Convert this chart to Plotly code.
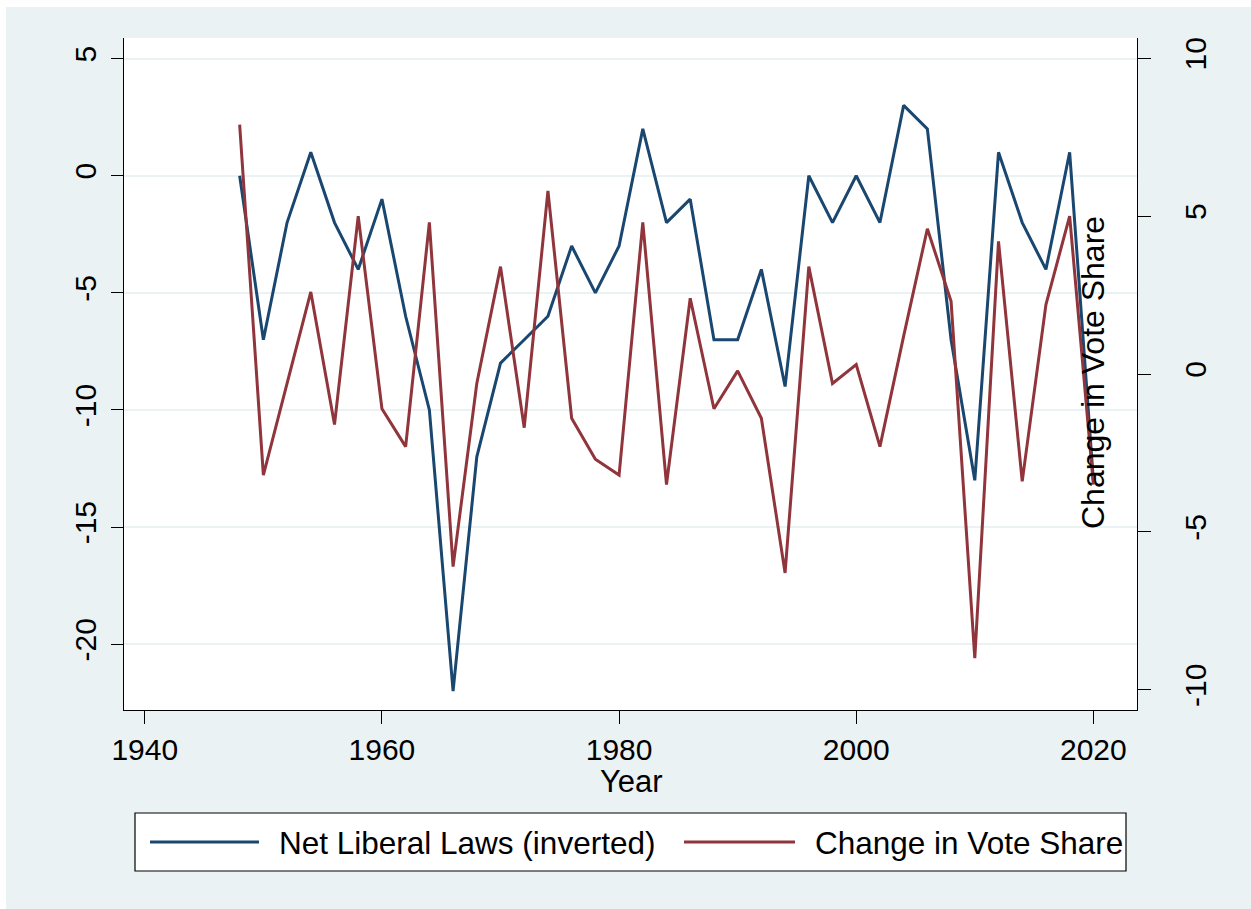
import plotly.graph_objects as go

# Election years
years = [1948, 1950, 1952, 1954, 1956, 1958, 1960, 1962, 1964, 1966,
         1968, 1970, 1972, 1974, 1976, 1978, 1980, 1982, 1984, 1986,
         1988, 1990, 1992, 1994, 1996, 1998, 2000, 2002, 2004, 2006,
         2008, 2010, 2012, 2014, 2016, 2018, 2020]

# Net liberal laws (sign inverted), left axis
net_liberal_laws = [0, -7, -2, 1, -2, -4, -1, -6, -10, -22,
                    -12, -8, -7, -6, -3, -5, -3, 2, -2, -1,
                    -7, -7, -4, -9, 0, -2, 0, -2, 3, 2,
                    -7, -13, 1, -2, -4, 1, -13]

# Change in vote share, right axis
vote_share_change = [7.9, -3.2, -0.3, 2.6, -1.6, 5.0, -1.1, -2.3, 4.8, -6.1,
                     -0.3, 3.4, -1.7, 5.8, -1.4, -2.7, -3.2, 4.8, -3.5, 2.4,
                     -1.1, 0.1, -1.4, -6.3, 3.4, -0.3, 0.3, -2.3, 1.2, 4.6,
                     2.3, -9.0, 4.2, -3.4, 2.2, 5.0, -3.5]

left_ticks = [-20, -15, -10, -5, 0, 5]
left_labels = ["-20", "-15", "-10", "-5", "0", "5"]
right_ticks = [-10, -5, 0, 5, 10]
right_labels = ["-10", "-5", "0", "5", "10"]
x_ticks = [1940, 1960, 1980, 2000, 2020]

NAVY = "#1A476F"
MAROON = "#90353B"
BG = "#EAF2F3"
FONT = "Liberation Sans, Arial, Helvetica, sans-serif"

W, H = 1251, 909
L, R, T, B = 124, 1137, 38, 710   # plot area in pixels


def px(x):
    return (x - L) / (R - L)


def py(y):
    return (B - y) / (B - T)


fig = go.Figure()
fig.add_trace(go.Scatter(x=years, y=net_liberal_laws, mode="lines",
                         line=dict(color=NAVY, width=3),
                         name="Net Liberal Laws (inverted)", showlegend=False))
fig.add_trace(go.Scatter(x=years, y=vote_share_change, mode="lines",
                         line=dict(color=MAROON, width=3),
                         name="Change in Vote Share", yaxis="y2", showlegend=False))

tickfont = dict(family=FONT, size=30, color="black")

fig.update_layout(
    width=W, height=H,
    margin=dict(l=L, r=W - R, t=T, b=H - B, pad=0),
    paper_bgcolor=BG,
    plot_bgcolor="white",
    font=dict(family=FONT, color="black"),
    xaxis=dict(range=[1938.246, 2023.68], tickvals=x_ticks, ticks="outside",
               ticklen=13, tickwidth=1.2, tickcolor="black", showgrid=False,
               zeroline=False, showline=True, linecolor="black", linewidth=1.2,
               tickfont=tickfont),
    yaxis=dict(range=[-22.806, 5.878], tickvals=left_ticks, ticktext=left_labels,
               ticks="outside", ticklen=12, tickwidth=1.2, tickcolor="black",
               tickangle=-90, ticklabelstandoff=3,
               showgrid=True, gridcolor=BG, gridwidth=2, zeroline=False,
               showline=True, linecolor="black", linewidth=1.2, tickfont=tickfont),
    yaxis2=dict(range=[-10.64, 10.64], tickvals=right_ticks, ticktext=right_labels,
                ticks="outside", ticklen=13, tickwidth=1.2, tickcolor="black",
                tickangle=-90, ticklabelstandoff=19,
                overlaying="y", side="right", showgrid=False, zeroline=False,
                showline=True, linecolor="black", linewidth=1.2, tickfont=tickfont),
    showlegend=False,
)

shapes = []
# white border strips along the top and left edges
shapes.append(dict(type="rect", xref="paper", yref="paper", x0=px(0), x1=px(W),
                   y0=py(0), y1=py(7), fillcolor="white", line=dict(width=0), layer="above"))
shapes.append(dict(type="rect", xref="paper", yref="paper", x0=px(0), x1=px(6),
                   y0=py(0), y1=py(H), fillcolor="white", line=dict(width=0), layer="above"))
# legend box
shapes.append(dict(type="rect", xref="paper", yref="paper", x0=px(135), x1=px(1126),
                   y0=py(813), y1=py(871), fillcolor="white",
                   line=dict(color="black", width=1.2), layer="above"))
# legend keys
shapes.append(dict(type="line", xref="paper", yref="paper", x0=px(150), x1=px(259),
                   y0=py(842), y1=py(842), line=dict(color=NAVY, width=3), layer="above"))
shapes.append(dict(type="line", xref="paper", yref="paper", x0=px(684), x1=px(795),
                   y0=py(842), y1=py(842), line=dict(color=MAROON, width=3), layer="above"))

annotations = [
    dict(text="Net Liberal Laws (inverted)", xref="paper", yref="paper",
         x=px(277), y=py(843), xanchor="left", yanchor="middle", showarrow=False,
         font=dict(family=FONT, size=31.5, color="black")),
    dict(text="Change in Vote Share", xref="paper", yref="paper",
         x=px(813), y=py(843), xanchor="left", yanchor="middle", showarrow=False,
         font=dict(family=FONT, size=31.5, color="black")),
    # x-axis title
    dict(text="Year", xref="paper", yref="paper",
         x=px(631), y=py(781), xanchor="center", yanchor="middle",
         showarrow=False, font=dict(family=FONT, size=31, color="black")),
    # right-axis title
    dict(text="Change in Vote Share", xref="paper", yref="paper",
         x=px(1093), y=py(373), xanchor="center", yanchor="middle", textangle=-90,
         showarrow=False, font=dict(family=FONT, size=32, color="black")),
]

fig.update_layout(shapes=shapes, annotations=annotations)
fig.write_html("out.html")
